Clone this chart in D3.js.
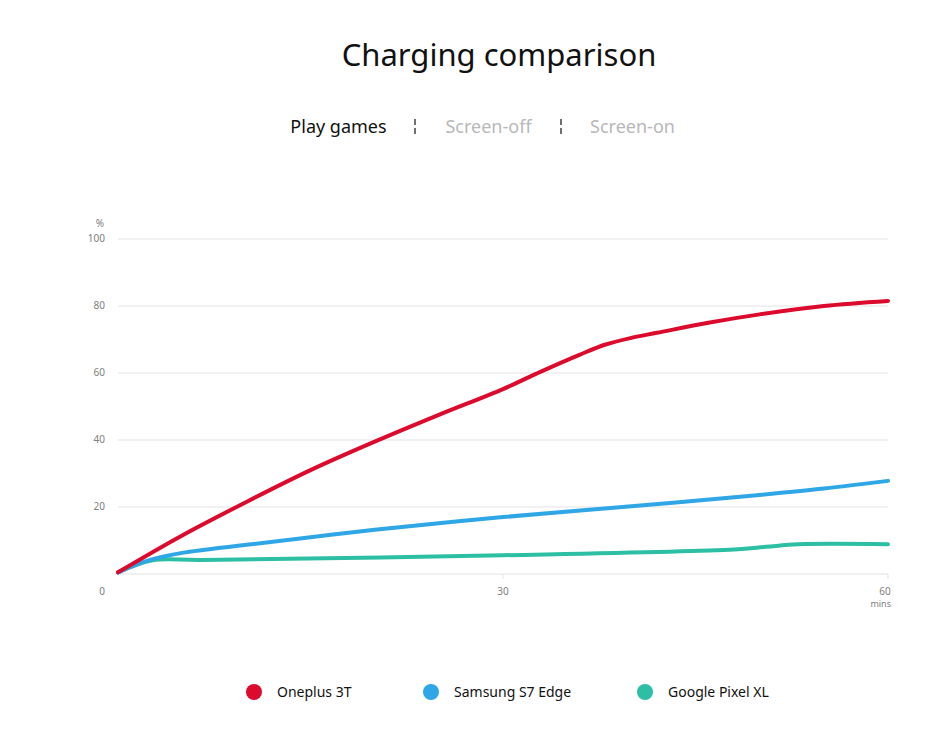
<!DOCTYPE html>
<html>
<head>
<meta charset="utf-8">
<script src="https://cdn.jsdelivr.net/npm/d3@7"></script>
<style>
  body { margin: 0; background: #fff; }
  text { font-family: "Noto Sans", "Open Sans", sans-serif; }
</style>
</head>
<body>
<script>
// data (minutes -> battery %)
var minutes = [0, 5, 10, 15, 20, 25, 30, 33, 36, 38, 40, 42, 46, 50, 55, 60];
var oneplus = [0.5, 11.5, 21.5, 31, 39.5, 47.5, 55.2, 60.5, 65.5, 68.5, 70.5, 72, 75, 77.5, 80, 81.5];
var blueMins = [0, 2.5, 5, 10, 15, 20, 30, 40, 50, 55, 60];
var samsung = [0.5, 4.2, 6.3, 8.7, 11, 13.2, 17, 20.2, 23.6, 25.5, 27.8];
var greenMins = [0, 2.7, 6.5, 30, 48, 50.5, 53, 60];
var pixel = [0.5, 4.1, 4.2, 5.6, 7.3, 8.1, 8.9, 8.9];

var seriesNames = ["Oneplus 3T", "Samsung S7 Edge", "Google Pixel XL"];
var seriesColors = ["#dc0a2d", "#2fa6e6", "#2cbfa3"];
var tabs = ["Play games", "Screen-off", "Screen-on"];
var yTicks = [20, 40, 60, 80, 100];
var xTicks = [0, 30, 60];

var W = 950, H = 755;
var svg = d3.select("body").append("svg").attr("width", W).attr("height", H);

var x = d3.scaleLinear().domain([0, 60]).range([118, 888]);
var y = d3.scaleLinear().domain([0, 100]).range([574, 239]);

// title
svg.append("text").attr("x", 499).attr("y", 66).attr("text-anchor", "middle")
  .style("font-size", "31px").style("fill", "#111").text("Charging comparison");

// tabs
var tabX = [338.5, 488.5, 632.5];
tabs.forEach(function (t, i) {
  svg.append("text").attr("x", tabX[i]).attr("y", 133).attr("text-anchor", "middle")
    .style("font-size", "18px").style("fill", i == 0 ? "#111" : "#b8b8b8").text(t);
});
// broken-bar separators
[415, 561].forEach(function (sx) {
  svg.append("line").attr("x1", sx).attr("x2", sx).attr("y1", 119).attr("y2", 125)
    .style("stroke", "#222").style("stroke-width", 1.3);
  svg.append("line").attr("x1", sx).attr("x2", sx).attr("y1", 128).attr("y2", 134)
    .style("stroke", "#222").style("stroke-width", 1.3);
});

// grid lines
svg.selectAll(".grid").data(yTicks).enter().append("line")
  .attr("x1", x(0)).attr("x2", x(60))
  .attr("y1", function (d) { return y(d); }).attr("y2", function (d) { return y(d); })
  .style("stroke", "#e3e3e3").style("stroke-width", 1);

svg.append("line").attr("x1", x(0)).attr("x2", x(60)).attr("y1", y(0)).attr("y2", y(0))
  .style("stroke", "#e3e3e3").style("stroke-width", 1);

// y labels
svg.selectAll(".ylab").data(yTicks).enter().append("text")
  .attr("x", 105).attr("y", function (d) { return y(d) + 3; })
  .attr("text-anchor", "end").style("font-size", "10px").style("fill", "#808080")
  .text(function (d) { return d; });
svg.append("text").attr("x", 104).attr("y", 227).attr("text-anchor", "end")
  .style("font-size", "10px").style("fill", "#808080").text("%");

// x ticks + labels
svg.selectAll(".xtick").data(xTicks.slice(1)).enter().append("line")
  .attr("x1", function (d) { return x(d); }).attr("x2", function (d) { return x(d); })
  .attr("y1", y(0)).attr("y2", y(0) + 5)
  .style("stroke", "#e3e3e3");
svg.selectAll(".xlab").data(xTicks).enter().append("text")
  .attr("x", function (d) { return d == 0 ? 102 : x(d) - (d == 60 ? 3 : 0); })
  .attr("y", 595).attr("text-anchor", "middle")
  .style("font-size", "10px").style("fill", "#808080")
  .text(function (d) { return d; });
svg.append("text").attr("x", 891).attr("y", 607).attr("text-anchor", "end")
  .style("font-size", "9px").style("fill", "#808080").text("mins");

// lines
var line = d3.line()
  .x(function (d) { return x(d[0]); })
  .y(function (d) { return y(d[1]); })
  .curve(d3.curveCatmullRom.alpha(0.5));

var allSeries = [
  d3.zip(minutes, oneplus),
  d3.zip(blueMins, samsung),
  d3.zip(greenMins, pixel)
];

// draw bottom-up so red sits on top
[2, 1, 0].forEach(function (i) {
  svg.append("path").datum(allSeries[i]).attr("d", line)
    .style("fill", "none").style("stroke", seriesColors[i])
    .style("stroke-width", 4).style("stroke-linecap", "round");
});

// legend
var legX = [254, 431, 645];
seriesNames.forEach(function (n, i) {
  svg.append("circle").attr("cx", legX[i]).attr("cy", 692).attr("r", 8)
    .style("fill", seriesColors[i]);
  svg.append("text").attr("x", legX[i] + 23).attr("y", 697)
    .style("font-size", "14px").style("fill", "#111").text(n);
});
</script>
</body>
</html>
